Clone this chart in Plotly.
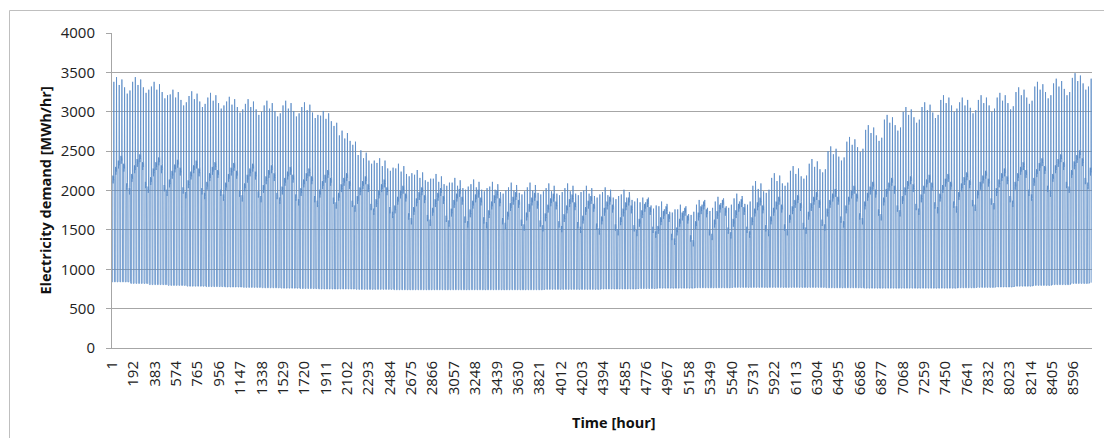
import plotly.graph_objects as go

# Weekly readings of hourly electricity demand [MWh/hr], one entry per week of the year
peak_weekday = [3380, 3380, 3320, 3220, 3200, 3180, 3130, 3100, 3080, 3080, 3060, 2950, 2700,
                2450, 2350, 2280, 2200, 2150, 2100, 2080, 2050, 2040, 2040, 2030, 2030, 2000,
                1980, 1950, 1850, 1800, 1760, 1820, 1860, 1900, 2060, 2160, 2250, 2340, 2500,
                2620, 2770, 2900, 3000, 3060, 3150, 3120, 3150, 3180, 3250, 3320, 3360, 3430, 3420]
peak_weekend = [3230, 3240, 3170, 3080, 3060, 3040, 2990, 2960, 2940, 2940, 2920, 2820, 2580,
                2340, 2250, 2180, 2110, 2060, 2010, 1990, 1960, 1950, 1950, 1940, 1940, 1910,
                1890, 1860, 1770, 1720, 1690, 1740, 1780, 1820, 1970, 2060, 2150, 2230, 2380,
                2490, 2630, 2760, 2860, 2920, 3000, 2980, 3000, 3030, 3100, 3170, 3210, 3280, 3270]
# Lowest daytime plateau of each week
day_base = [1980, 2000, 1960, 1930, 1920, 1900, 1890, 1880, 1860, 1840, 1820, 1800, 1760,
            1720, 1680, 1600, 1580, 1570, 1560, 1550, 1540, 1520, 1510, 1500, 1490, 1470,
            1460, 1450, 1430, 1340, 1320, 1400, 1420, 1430, 1450, 1460, 1480, 1520, 1560,
            1600, 1650, 1700, 1720, 1740, 1750, 1770, 1790, 1820, 1900, 1950, 2000, 2050, 2080]
night_low = [840, 820, 805, 795, 785, 780, 775, 770, 765, 760, 755, 750, 750,
             745, 745, 740, 740, 740, 740, 740, 740, 740, 740, 745, 745, 745,
             750, 750, 755, 760, 760, 765, 765, 770, 770, 770, 770, 770, 765,
             765, 760, 760, 760, 760, 760, 765, 770, 775, 785, 795, 805, 820, 830]
# Day-of-week (Mon..Sun) shifts: evening peak and daytime plateau above the weekly base
peak_shift_by_day = [0, 60, -40, 30, -70, 0, 40]
plateau_rise_by_day = [150, 260, 340, 400, 300, 60, 0]

# Hour-axis tick labels (every 191 hours)
tick_hours = list(range(1, 8597, 191))
tick_labels = [str(h) for h in tick_hours]

# Daily load profile: (hour of day, level, shift in MWh/hr) vertices
weekday_profile = [(1, "low", 0), (6, "low", 0), (7, "day", 0), (9, "day", 60),
                   (11, "day", -40), (13, "day", 50), (15, "day", 0), (17, "peak", 0),
                   (19, "day", 80), (21, "day", 20), (23, "low", 0)]
weekend_profile = [(1, "low", 0), (7, "low", 0), (9, "day", 0), (11, "day", 50),
                   (13, "day", -30), (15, "day", 30), (17, "peak", 0),
                   (19, "day", 60), (21, "day", 0), (22, "low", 0)]

hours, demand = [], []
for d in range(365):
    w, dow = divmod(d, 7)
    weekend = dow in (5, 6)
    lv = {
        "low": night_low[w],
        "day": day_base[w] + plateau_rise_by_day[dow],
        "peak": (peak_weekend if weekend else peak_weekday)[w] + peak_shift_by_day[dow],
    }
    for off, key, shift in (weekend_profile if weekend else weekday_profile):
        hours.append(24 * d + off)
        demand.append(lv[key] + shift)

fig = go.Figure()
fig.add_trace(go.Scatter(
    x=hours, y=demand, mode="lines",
    line=dict(color="#5b8cc6", width=0.8, simplify=False),
    hoverinfo="skip", showlegend=False,
))

L, R, T, B = 112, 12, 33, 90
W, H = 1104, 438
pw, ph = W - L - R, H - T - B

grid = "#a6a6a6"
tick_font = dict(family="Open Sans", size=15, color="#222222")

fig.update_layout(
    width=W, height=H,
    margin=dict(l=L, r=R, t=T, b=B, pad=0),
    paper_bgcolor="white", plot_bgcolor="white",
    xaxis=dict(
        range=[0.5, 8760.5], tickmode="array", tickvals=tick_hours, ticktext=tick_labels,
        tickangle=-90, tickfont=tick_font, showgrid=False, zeroline=False,
        showline=True, linecolor=grid, linewidth=1, ticks="", ticklabelstandoff=6,
    ),
    yaxis=dict(
        range=[0, 4000], dtick=500, tickfont=tick_font, showgrid=True, gridcolor=grid,
        gridwidth=1, zeroline=False, showline=True, linecolor=grid, linewidth=1,
        ticks="outside", ticklen=5, tickcolor=grid, ticklabelstandoff=8,
    ),
    annotations=[
        dict(text="<b>Electricity demand [MWh/hr]</b>", textangle=-90,
             x=(45 - L) / pw, y=0.5, xref="paper", yref="paper",
             xanchor="center", yanchor="middle", showarrow=False,
             font=dict(family="Open Sans", size=14.5, color="#111111")),
        dict(text="<b>Time [hour]</b>",
             x=(614 - L) / pw, y=(T + ph - 422) / ph, xref="paper", yref="paper",
             xanchor="center", yanchor="middle", showarrow=False,
             font=dict(family="Open Sans", size=14.5, color="#111111")),
    ],
    shapes=[
        dict(type="rect", xref="paper", yref="paper",
             x0=(9.5 - L) / pw, x1=(W + 10 - L) / pw,
             y0=(T + ph - (H + 10)) / ph, y1=(T + ph - 10.5) / ph,
             line=dict(color="#bfbfbf", width=1), fillcolor="rgba(0,0,0,0)", layer="below"),
    ],
)

fig.write_html("out.html")
